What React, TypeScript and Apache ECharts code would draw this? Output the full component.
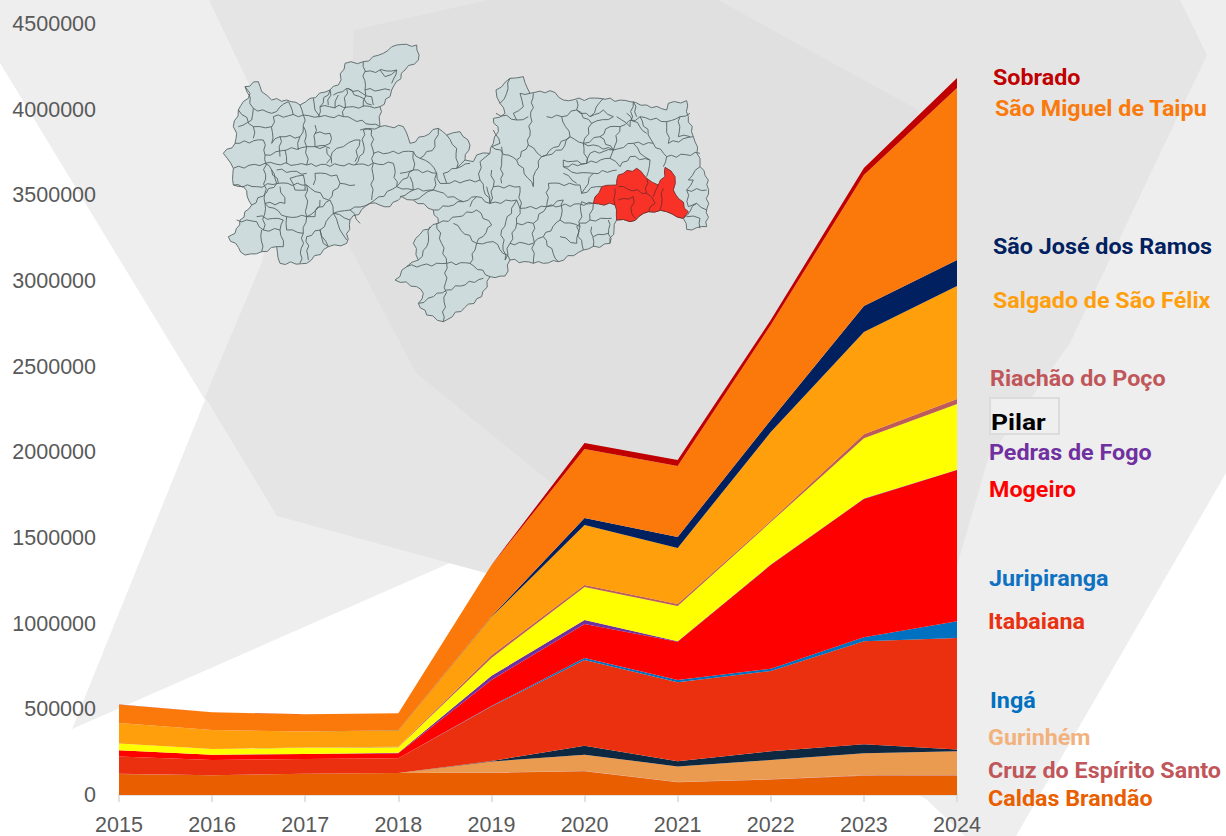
import React, { useEffect, useRef } from "react";
import * as echarts from "echarts";

const years = ["2015", "2016", "2017", "2018", "2019", "2020", "2021", "2022", "2023", "2024"];

const caldasBrandao = [123000, 115000, 124000, 128000, 130000, 138000, 74000, 90000, 113000, 113000];
const cruzEspiritoSanto = [500, 500, 500, 1000, 1000, 2000, 2000, 2000, 2000, 2000];
const gurinhem = [0, 0, 0, 0, 64000, 95000, 91000, 112000, 128000, 140000];
const inga = [0, 0, 0, 0, 3000, 53000, 30000, 51000, 53000, 10000];
const itabaiana = [100500, 88500, 85500, 85000, 318000, 500000, 461000, 469000, 601000, 651000];
const juripiranga = [500, 500, 500, 500, 4000, 12000, 13000, 13000, 23000, 98000];
const mogeiro = [36500, 30500, 28500, 28500, 151000, 198000, 224000, 605000, 808000, 883000];
const pedrasDeFogo = [500, 500, 1000, 3000, 25000, 23000, 3000, 3000, 2000, 2000];
const pilar = [38500, 32500, 36000, 32000, 104000, 193000, 205000, 248000, 352000, 383000];
const riachaoDoPoco = [500, 500, 1000, 3000, 15000, 12000, 12000, 7000, 23000, 29000];
const salgadoDeSaoFelix = [119500, 110500, 93000, 96000, 224000, 350000, 327000, 519000, 597000, 660000];
const saoJoseDosRamos = [500, 500, 500, 500, 3000, 41000, 64000, 70000, 152000, 152000];
const saoMiguelDeTaipu = [106500, 103500, 100500, 99500, 300000, 402000, 414000, 554000, 765000, 1004000];
const sobrado = [500, 500, 500, 500, 1000, 35000, 35000, 29000, 41000, 58000];

const seriesList: [string, number[], string][] = [
  ["Caldas Brandão", caldasBrandao, "#E95F00"],
  ["Cruz do Espírito Santo", cruzEspiritoSanto, "#C0504D"],
  ["Gurinhém", gurinhem, "#EB9B50"],
  ["Ingá", inga, "#0E2841"],
  ["Itabaiana", itabaiana, "#EA300F"],
  ["Juripiranga", juripiranga, "#0070C0"],
  ["Mogeiro", mogeiro, "#FF0000"],
  ["Pedras de Fogo", pedrasDeFogo, "#7030A0"],
  ["Pilar", pilar, "#FFFF00"],
  ["Riachão do Poço", riachaoDoPoco, "#BF5A5A"],
  ["Salgado de São Félix", salgadoDeSaoFelix, "#FE9F0B"],
  ["São José dos Ramos", saoJoseDosRamos, "#002060"],
  ["São Miguel de Taipu", saoMiguelDeTaipu, "#FB790B"],
  ["Sobrado", sobrado, "#C00000"],
];

const labelSpecs: [string, number, number, string][] = [
  ["Sobrado", 993, 78, "#C00000"],
  ["São Miguel de Taipu", 995, 109, "#FA7A0C"],
  ["São José dos Ramos", 993, 247, "#002060"],
  ["Salgado de São Félix", 993, 301, "#FF9F0E"],
  ["Riachão do Poço", 990, 379, "#C0565A"],
  ["Pilar", 991, 422, "#000000"],
  ["Pedras de Fogo", 989, 453, "#7030A0"],
  ["Mogeiro", 989, 490, "#FF0000"],
  ["Juripiranga", 989, 579, "#0F71C1"],
  ["Itabaiana", 988, 622, "#E93010"],
  ["Ingá", 990, 701, "#0070C0"],
  ["Gurinhém", 988, 738, "#F2B27E"],
  ["Cruz do Espírito Santo", 988, 771, "#C0565A"],
  ["Caldas Brandão", 988, 799, "#E95F00"],
];

// Decoration: backdrop facets, page pixels
const backdrop: [number[][], string][] = [
  [[[0, 0], [1226, 0], [1226, 473], [1016, 836], [965, 836], [926, 799], [493, 573], [450, 563], [72, 729], [205, 400], [0, 63]], "#EEEEEE"],
  [[[209, 0], [1180, 0], [1207, 55], [1070, 343], [988, 459], [957, 566], [900, 790], [700, 680], [493, 575], [277, 516], [205, 397], [262, 262], [285, 160]], "#E5E5E5"],
  [[[489, 0], [718, 0], [918, 110], [880, 420], [800, 620], [555, 486], [416, 373], [346, 240], [354, 30]], "#E0E0E0"],
];

// Decoration: municipality map, coordinates in a 3x space offset from (200,30)
const mapOutline = [135,170,175,155,185,185,215,210,260,210,300,225,330,205,390,180,415,165,435,100,490,95,550,70,590,45,650,45,655,90,615,120,575,180,570,200,540,230,540,290,610,290,630,340,715,295,740,315,780,305,810,345,795,390,820,395,830,375,870,370,880,340,895,305,880,265,915,250,900,220,888,180,930,145,970,140,990,190,1050,182,1090,210,1200,205,1290,215,1340,225,1400,240,1405,220,1460,212,1465,260,1480,320,1500,385,1500,410,1525,450,1520,590,1460,598,1450,565,1400,545,1345,545,1290,575,1250,570,1230,640,1150,660,1075,695,1000,700,930,690,915,738,870,740,845,800,730,875,680,855,655,820,670,790,650,770,585,750,620,710,655,690,640,640,670,600,715,580,700,540,640,510,605,500,570,530,510,520,450,570,440,640,385,650,320,700,240,700,230,650,185,665,135,675,85,620,105,610,120,570,155,525,130,470,100,465,100,415,70,370,105,340,110,310,100,290,115,240,150,190];
const mapRed = [1180,520,1205,470,1250,465,1255,435,1310,415,1340,445,1375,465,1395,440,1395,412,1425,440,1420,480,1465,545,1450,565,1400,545,1345,545,1290,575,1250,570,1245,525];
const mapLines = [
  [105,340,190,330,195,375,260,360,320,350,345,350,390,355],
  [100,415,195,400,320,405,460,405,580,400],
  [100,465,170,470,235,460,320,465,385,510,420,460,465,465],
  [155,525,230,460,215,420,195,400],
  [195,375,195,520,190,600],
  [115,240,160,290,160,325],
  [135,170,160,235,215,250,265,215],
  [220,260,215,340,240,320,240,380],
  [220,260,310,255,360,260,430,260,540,290],
  [310,255,320,350],
  [345,285,345,350],
  [345,310,390,310,390,340,345,350],
  [430,260,440,175,515,225],
  [390,180,360,230,460,230,540,230],
  [490,95,495,180,570,180],
  [495,125,590,120,575,160],
  [490,300,490,370,465,405],
  [515,300,520,400,515,510],
  [580,400,590,470,510,520],
  [520,370,640,365,640,420,590,470],
  [320,465,320,560,390,510],
  [390,510,400,550,450,540,510,520],
  [195,520,260,560,320,560],
  [170,560,250,570,240,600,190,600],
  [260,560,260,600,310,610,320,560],
  [385,650,360,600,320,620],
  [310,610,300,700],
  [185,600,185,665],
  [400,550,360,600],
  [450,570,400,550],
  [715,295,705,350,660,385,640,365],
  [740,315,770,355,770,415,730,430],
  [640,420,710,430,720,460,840,450],
  [590,470,640,480,700,480,710,430],
  [700,480,790,515,830,500,870,520],
  [700,540,790,515],
  [840,450,840,395,870,370],
  [840,450,870,520,880,470,960,470],
  [715,580,830,540,875,585,830,640,760,580],
  [870,520,950,510,905,600,915,690],
  [830,640,880,635,930,690],
  [690,590,680,650,655,690],
  [710,580,740,700,730,875],
  [620,710,740,700,810,700,870,740],
  [810,700,825,660,830,640],
  [740,780,850,745],
  [655,820,700,800,740,780],
  [905,350,905,390,905,460],
  [875,350,950,390,985,345],
  [985,345,1000,190],
  [985,345,1025,380,1110,320,1085,260,1130,240,1130,210],
  [1025,380,1000,440,1000,470],
  [950,390,1000,470],
  [1085,360,1110,320],
  [960,470,960,535,1040,530,1045,460,1140,465],
  [1040,530,1000,580,1000,700],
  [1040,530,1180,520],
  [950,510,960,535],
  [1090,510,1080,570,1140,590,1145,515],
  [1080,570,1030,620,1075,695],
  [1180,520,1170,570,1235,565],
  [1130,590,1150,660],
  [1170,570,1130,590],
  [1225,570,1230,640],
  [1130,240,1175,280,1150,340,1160,400],
  [1110,320,1150,340,1240,360,1300,340],
  [1090,410,1160,400,1230,385,1260,410],
  [1240,360,1260,290,1320,260,1400,275,1405,340],
  [1210,205,1170,260],
  [1300,215,1290,290,1250,260],
  [1320,260,1360,340,1400,380,1500,370],
  [1400,380,1390,410],
  [1350,390,1340,440],
  [1440,260,1435,320,1470,320],
  [1480,450,1460,480,1520,480],
  [1450,565,1490,520,1520,540],
  [1460,560,1500,565,1500,595],
  [1090,410,1130,430,1180,430,1145,490],
  [1145,490,1190,470,1205,470],
  [1090,430,1130,460],
  [1250,420,1180,430],
  [1280,250,1340,310],
  [1300,215,1310,260],
  [160,235,155,270,115,290],
  [160,290,215,290],
  [265,215,280,255],
  [300,225,310,255],
  [340,205,345,240,360,260],
  [360,230,355,260],
  [390,180,385,225],
  [415,195,405,235],
  [440,175,400,195],
  [445,175,515,200,520,225],
  [540,120,555,140,590,120],
  [495,180,490,230],
  [240,320,300,320,310,290],
  [300,320,295,360],
  [255,360,260,400],
  [320,350,320,405],
  [380,355,395,400],
  [430,350,465,330,480,330,465,395],
  [430,350,410,355,380,400],
  [230,420,320,430],
  [270,445,310,435,315,480],
  [270,445,285,480,320,480],
  [345,430,410,435,420,460],
  [345,430,340,465],
  [360,510,345,560,320,560],
  [240,470,255,520,195,520],
  [215,420,235,460],
  [110,570,170,575,190,600],
  [240,600,250,650,230,650],
  [360,600,370,640,385,650],
  [320,620,325,690],
  [400,550,420,600,440,630],
  [450,540,480,580],
  [480,300,515,300],
  [540,290,490,300],
  [640,480,630,440],
  [600,430,640,420],
  [600,500,640,480],
  [660,385,690,400,710,430],
  [770,415,810,400],
  [730,430,740,460],
  [795,390,770,415],
  [640,510,700,480],
  [830,500,810,530],
  [870,520,860,470],
  [880,470,875,420],
  [888,250,950,270,985,260],
  [930,145,920,190,900,220],
  [950,270,940,250,970,230,960,190,990,190],
  [880,300,900,340,875,350],
  [1085,260,1040,260],
  [1130,240,1170,260,1210,240,1240,260],
  [1175,280,1240,260],
  [1150,340,1200,320,1240,360],
  [1200,320,1230,290,1260,290],
  [1230,385,1240,360],
  [1300,340,1320,370,1350,390],
  [1300,340,1360,340],
  [1260,410,1290,380,1350,390],
  [1160,400,1170,370,1240,360],
  [1090,410,1090,390,1160,400],
  [1400,275,1440,260],
  [1440,260,1470,250],
  [1405,340,1480,320],
  [1500,410,1465,450,1480,450],
  [1460,480,1465,530,1490,520],
  [1140,465,1145,490],
  [1145,515,1180,520],
  [1085,360,1025,380],
  [1090,510,1040,530],
  [1140,590,1130,640],
  [1080,620,1130,640],
  [960,535,950,580,1000,580],
  [950,580,930,640,915,690],
  [1000,640,930,640],
  [1030,620,1000,640],
  [1175,590,1180,650],
  [1225,610,1180,620],
];
const mapRedLines = [
  [1245,475,1245,525],
  [1255,470,1340,490],
  [1300,500,1295,550,1305,565],
  [1340,445,1340,490,1365,520,1345,545],
  [1375,465,1360,500],
  [1390,475,1380,540],
  [1255,510,1300,500],
];

// Roughens a hand-traced border so it reads like a municipal boundary.
const toPts = (flat: number[], closed = false) => {
  const raw: number[][] = [];
  for (let i = 0; i < flat.length; i += 2) raw.push([flat[i], flat[i + 1]]);
  if (closed) raw.push(raw[0]);
  const out: number[][] = [];
  raw.forEach((p, i) => {
    out.push([200 + p[0] / 3, 30 + p[1] / 3]);
    const q = raw[i + 1];
    if (!q) return;
    const dx = q[0] - p[0];
    const dy = q[1] - p[1];
    const len = Math.hypot(dx, dy);
    const steps = Math.floor(len / 14);
    for (let s = 1; s < steps; s++) {
      const t = s / steps;
      const k = Math.sin((p[0] + q[0]) * 0.37 + (p[1] + q[1]) * 0.71 + s * 2.3) * 4.5;
      const x = p[0] + dx * t - (dy / len) * k;
      const y = p[1] + dy * t + (dx / len) * k;
      out.push([200 + x / 3, 30 + y / 3]);
    }
  });
  return out;
};

const LABEL_FONT = "Roboto";
const AXIS_FONT = "Liberation Sans";

export default function App() {
  const ref = useRef<HTMLDivElement>(null);
  useEffect(() => {
    if (!ref.current) return;
    const chart = echarts.init(ref.current, undefined, { renderer: "svg" });
    const graphic: any[] = [];
    backdrop.forEach(([points, fill]) => {
      graphic.push({ type: "polygon", silent: true, shape: { points }, style: { fill } });
    });
    graphic.push({
      type: "polygon", silent: true, shape: { points: toPts(mapOutline, true) },
      style: { fill: "#CDDBDC", stroke: "#667272", lineWidth: 1 },
    });
    mapLines.forEach((l) => graphic.push({
      type: "polyline", silent: true, shape: { points: toPts(l) },
      style: { fill: "none", stroke: "#566262", lineWidth: 0.9 },
    }));
    graphic.push({
      type: "polygon", silent: true, shape: { points: toPts(mapRed, true) },
      style: { fill: "#F93228", stroke: "#7A2A28", lineWidth: 0.9 },
    });
    mapRedLines.forEach((l) => graphic.push({
      type: "polyline", silent: true, shape: { points: toPts(l) },
      style: { fill: "none", stroke: "#7A2A28", lineWidth: 0.9 },
    }));
    graphic.push({
      type: "rect", silent: true, shape: { x: 990, y: 398, width: 69, height: 36 },
      style: { fill: "#EFEFEF", stroke: "#DCDCDC", lineWidth: 2 },
    });
    labelSpecs.forEach(([text, x, y, fill]) => graphic.push({
      type: "text", silent: true, x, y, scaleX: text === "Pilar" ? 1.2 : 1.06,
      style: {
        text, fill, font: `700 22px ${LABEL_FONT}`, textVerticalAlign: "middle", textAlign: "left",
      },
    }));

    chart.setOption({
      animation: false,
      backgroundColor: "#FFFFFF",
      grid: { left: 119, right: 269, top: 24, bottom: 41, containLabel: false, outerBoundsMode: "none" },
      graphic,
      xAxis: {
        type: "category", data: years, boundaryGap: false,
        axisLine: { lineStyle: { color: "#D9D9D9", width: 1.5 } },
        axisTick: { show: true, alignWithLabel: true, length: 7, lineStyle: { color: "#D9D9D9", width: 1.5 } },
        axisLabel: { color: "#595959", fontFamily: AXIS_FONT, fontSize: 21.5, lineHeight: 19, margin: 20, interval: 0 },
        splitLine: { show: false },
      },
      yAxis: {
        type: "value", min: 0, max: 4500000, interval: 500000,
        axisLine: { show: false }, axisTick: { show: false }, splitLine: { show: false },
        axisLabel: {
          color: "#595959", fontFamily: AXIS_FONT, fontSize: 21.5, margin: 23,
          formatter: (v: number) => String(v),
        },
      },
      series: seriesList.map(([name, data, color]) => ({
        name, type: "line", stack: "total", data, symbol: "none", silent: true,
        itemStyle: { color },
        lineStyle: { width: 0 },
        areaStyle: { color, opacity: 1 },
      })),
    });
    return () => chart.dispose();
  }, []);
  return <div ref={ref} style={{ position: "fixed", left: 0, top: 0, width: 1226, height: 836 }} />;
}
